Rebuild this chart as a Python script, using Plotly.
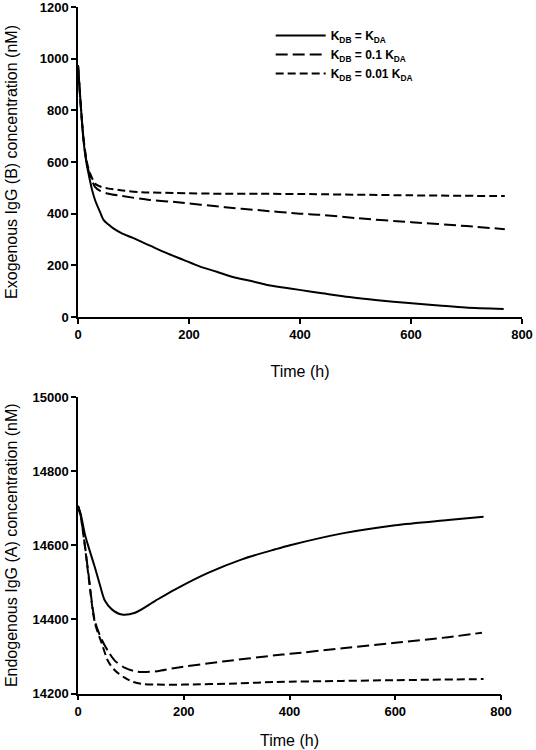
import plotly.graph_objects as go

# ---- data ----
t_b_eq = [0, 3, 6, 10, 15, 19, 25, 31, 40, 46, 55, 63, 80, 99, 130, 159, 190, 219, 250, 279, 310, 339,
          370, 399, 440, 489, 540, 596, 650, 698, 767]
b_eq = [975, 880, 790, 680, 600, 555, 495, 451, 405, 376, 358, 344, 323, 306, 276, 248, 221, 196, 175, 155,
        140, 125, 114, 105, 92, 77, 65, 54, 45, 37, 31]

t_b_01 = [0, 3, 6, 10, 16, 22, 31, 40, 55, 80, 129, 175, 265, 328, 400, 435, 500, 601, 700, 769]
b_01 = [975, 880, 790, 690, 593, 545, 503, 488, 477, 468, 453, 445, 425, 413, 400, 396, 383, 367, 352, 340]

t_b_001 = [0, 3, 6, 10, 16, 22, 31, 40, 55, 80, 115, 175, 265, 328, 400, 600, 769]
b_001 = [975, 880, 790, 690, 600, 555, 516, 505, 497, 490, 483, 480, 477, 477, 476, 471, 468]

t_a_eq = [0, 5, 13, 20, 32, 42, 51, 64, 83, 108, 146, 184, 247, 310, 373, 401, 500, 600, 700, 767]
a_eq = [14706, 14685, 14630, 14595, 14540, 14490, 14450, 14427, 14413, 14418, 14450, 14481, 14526,
        14562, 14589, 14600, 14632, 14654, 14668, 14677]

t_a_01 = [0, 5, 13, 20, 32, 45, 57, 70, 89, 105, 120, 150, 184, 278, 373, 401, 500, 600, 700, 764]
a_01 = [14706, 14680, 14600, 14520, 14395, 14345, 14314, 14288, 14269, 14261, 14258, 14260, 14269,
        14287, 14303, 14307, 14322, 14337, 14352, 14364]

t_a_001 = [0, 5, 13, 20, 32, 45, 57, 70, 89, 105, 120, 150, 200, 300, 373, 500, 600, 767]
a_001 = [14706, 14678, 14598, 14515, 14390, 14335, 14287, 14262, 14242, 14231, 14226, 14224, 14224,
         14227, 14231, 14234, 14236, 14239]

names = ["K<sub>DB</sub> = K<sub>DA</sub>",
         "K<sub>DB</sub> = 0.1 K<sub>DA</sub>",
         "K<sub>DB</sub> = 0.01 K<sub>DA</sub>"]

x_ticks = [0, 200, 400, 600, 800]
y_ticks_top = [0, 200, 400, 600, 800, 1000, 1200]
y_ticks_bot = [14200, 14400, 14600, 14800, 15000]

dashes = ["solid", "12px,5px", "8px,4px"]
FONT = "Liberation Sans"

fig = go.Figure()
top = [(t_b_eq, b_eq), (t_b_01, b_01), (t_b_001, b_001)]
bot = [(t_a_eq, a_eq), (t_a_01, a_01), (t_a_001, a_001)]
for i, (tx, vy) in enumerate(top):
    fig.add_trace(go.Scatter(x=tx, y=vy, mode="lines", name=names[i],
                             line=dict(color="black", width=2, dash=dashes[i], shape="spline", smoothing=0.8),
                             xaxis="x", yaxis="y", showlegend=True))
for i, (tx, vy) in enumerate(bot):
    fig.add_trace(go.Scatter(x=tx, y=vy, mode="lines", name=names[i],
                             line=dict(color="black", width=2, dash=dashes[i], shape="spline", smoothing=0.8),
                             xaxis="x2", yaxis="y2", showlegend=False))

W, H = 536, 750
axis_common = dict(showgrid=False, zeroline=False, showline=True, linecolor="black", linewidth=1.5,
                   ticks="outside", ticklen=5, tickwidth=1.5, tickcolor="black", automargin=False,
                   ticklabeloverflow="allow",
                   tickfont=dict(family=FONT, size=13, color="black", weight=700))
title_font = dict(family=FONT, size=16, color="black")

fig.update_layout(
    width=W, height=H, margin=dict(l=0, r=0, t=0, b=0, autoexpand=False),
    paper_bgcolor="white", plot_bgcolor="white",
    font=dict(family=FONT, color="black"),
    xaxis=dict(domain=[78 / W, 522 / W], anchor="y", range=[0, 800], tickvals=x_ticks,
               title=dict(text="Time (h)", font=title_font, standoff=24), **axis_common),
    yaxis=dict(domain=[1 - 317 / H, 1 - 7 / H], anchor="x", range=[0, 1200], tickvals=y_ticks_top,
               ticktext=[str(v) for v in y_ticks_top],
               title=dict(text="Exogenous IgG (B) concentration (nM)", font=title_font, standoff=18),
               **axis_common),
    xaxis2=dict(domain=[78 / W, 501 / W], anchor="y2", range=[0, 800], tickvals=x_ticks,
                title=dict(text="Time (h)", font=title_font, standoff=17), **axis_common),
    yaxis2=dict(domain=[1 - 693.5 / H, 1 - 397 / H], anchor="x2", range=[14200, 15000],
                tickvals=y_ticks_bot, ticktext=[str(v) for v in y_ticks_bot],
                title=dict(text="Endogenous IgG (A) concentration (nM)", font=title_font, standoff=11),
                **axis_common),
    legend=dict(x=0.505, y=0.972, xanchor="left", yanchor="top", bgcolor="rgba(0,0,0,0)",
                font=dict(family=FONT, size=12, color="black", weight=700),
                itemwidth=50, tracegroupgap=0),
    showlegend=True,
)

fig.write_html("out.html", config={"displayModeBar": False},
               post_script="document.body.style.margin='0px';")
